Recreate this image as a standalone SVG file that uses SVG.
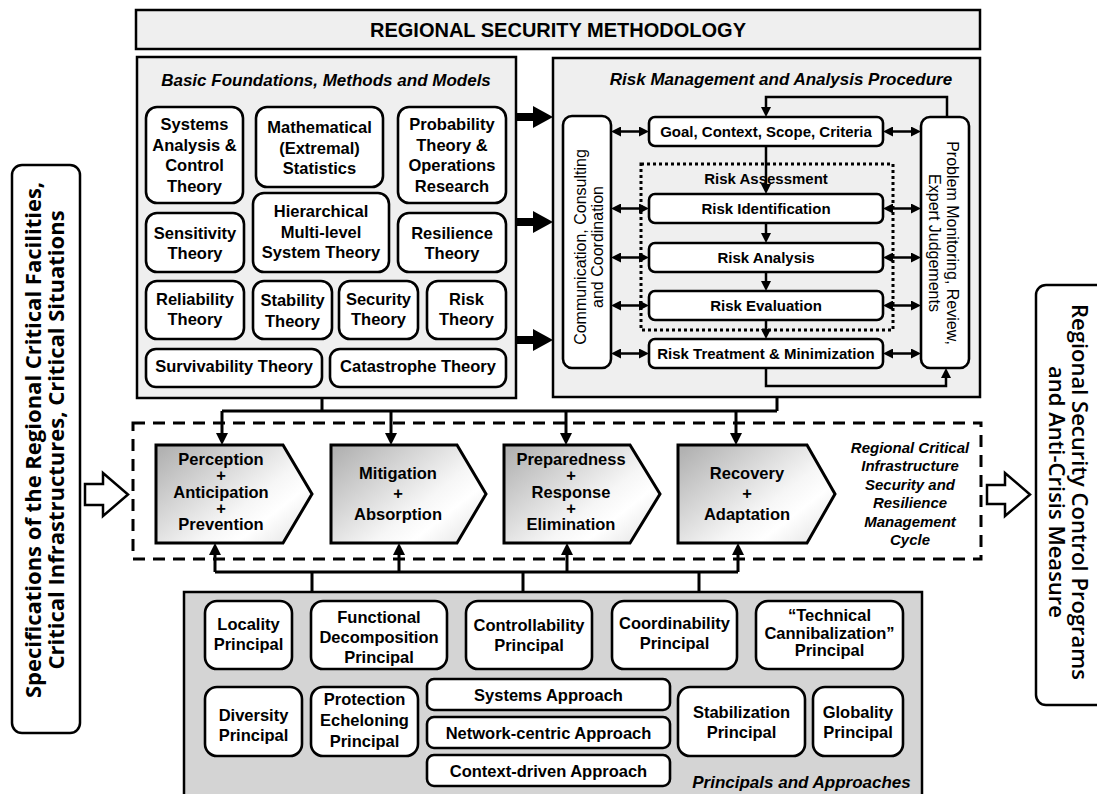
<svg xmlns="http://www.w3.org/2000/svg" width="1097" height="794" viewBox="0 0 1097 794">
<defs>
<style>
.panel{fill:#efefef;stroke:#000;stroke-width:2.5}
.box{fill:#fff;stroke:#000;stroke-width:2.6}
.t{font-family:"Liberation Sans",Arial,sans-serif;font-weight:bold;font-size:16.5px;text-anchor:middle;fill:#000}
.s{font-size:15px}
.ti{font-family:"Liberation Sans",Arial,sans-serif;font-weight:bold;font-style:italic;font-size:17px;text-anchor:middle;fill:#000}
.tc{font-family:"Liberation Sans",Arial,sans-serif;font-weight:bold;font-style:italic;font-size:15px;text-anchor:middle;fill:#000}
.tv{font-family:"Liberation Sans",Arial,sans-serif;font-size:16px;text-anchor:middle;fill:#000}
.side{font-family:"Open Sans","Liberation Sans",sans-serif;font-weight:600;font-size:22px;text-anchor:middle;fill:#000}
.ln{fill:none;stroke:#000;stroke-width:2.5}
.lm{fill:none;stroke:#000;stroke-width:3}
.chev{fill:url(#g);stroke:#000;stroke-width:3}
.hollow{fill:#fff;stroke:#000;stroke-width:2.5;stroke-linejoin:miter}
</style>
<linearGradient id="g" x1="0" y1="0.1" x2="1" y2="0.9">
<stop offset="0" stop-color="#b2b2b2"/>
<stop offset="0.6" stop-color="#f6f6f6"/>
<stop offset="0.75" stop-color="#ffffff"/>
<stop offset="1" stop-color="#e4e4e4"/>
</linearGradient>
<marker id="a" viewBox="0 0 10 10" refX="6" refY="5" markerWidth="10" markerHeight="10" markerUnits="userSpaceOnUse" orient="auto-start-reverse"><path d="M0,0L10,5L0,10z"/></marker>
<marker id="b" viewBox="0 0 12 12" refX="8" refY="6" markerWidth="12" markerHeight="12" markerUnits="userSpaceOnUse" orient="auto-start-reverse"><path d="M0,0L12,6L0,12z"/></marker>
<marker id="c" viewBox="0 0 20 22" refX="4" refY="11" markerWidth="20" markerHeight="22" markerUnits="userSpaceOnUse" orient="auto"><path d="M0,0L20,11L0,22z"/></marker>
</defs>
<rect width="1097" height="794" fill="#fff"/>

<g id="title">
<rect class="panel" x="136" y="10" width="844" height="39"/>
<text class="t" style="font-size:20px" x="558" y="37">REGIONAL SECURITY METHODOLOGY</text>
</g>

<g id="foundations">
<rect class="panel" x="137" y="57" width="379" height="341"/>
<text class="ti" x="326" y="86">Basic Foundations, Methods and Models</text>
<g id="systems-analysis"><rect class="box" x="146" y="107" width="97" height="96" rx="11"/><text class="t" x="194.5" y="130">Systems</text><text class="t" x="194.5" y="150.5">Analysis &amp;</text><text class="t" x="194.5" y="171">Control</text><text class="t" x="194.5" y="191.5">Theory</text></g>
<g id="math-stats"><rect class="box" x="256" y="107" width="127" height="80" rx="11"/><text class="t" x="319.5" y="133">Mathematical</text><text class="t" x="319.5" y="153.5">(Extremal)</text><text class="t" x="319.5" y="174">Statistics</text></g>
<g id="probability"><rect class="box" x="398" y="107" width="108" height="96" rx="11"/><text class="t" x="452" y="130">Probability</text><text class="t" x="452" y="150.5">Theory &amp;</text><text class="t" x="452" y="171">Operations</text><text class="t" x="452" y="191.5">Research</text></g>
<g id="sensitivity"><rect class="box" x="146" y="213" width="98" height="59" rx="11"/><text class="t" x="195" y="239">Sensitivity</text><text class="t" x="195" y="259">Theory</text></g>
<g id="hierarchical"><rect class="box" x="253" y="193" width="136" height="79" rx="11"/><text class="t" x="321" y="217">Hierarchical</text><text class="t" x="321" y="238">Multi-level</text><text class="t" x="321" y="258">System Theory</text></g>
<g id="resilience"><rect class="box" x="398" y="213" width="108" height="59" rx="11"/><text class="t" x="452" y="239">Resilience</text><text class="t" x="452" y="259">Theory</text></g>
<g id="reliability"><rect class="box" x="146" y="281" width="98" height="58" rx="11"/><text class="t" x="195" y="304.5">Reliability</text><text class="t" x="195" y="324.5">Theory</text></g>
<g id="stability"><rect class="box" x="253" y="281" width="79" height="58" rx="11"/><text class="t" x="292.5" y="306">Stability</text><text class="t" x="292.5" y="326.5">Theory</text></g>
<g id="security"><rect class="box" x="339" y="281" width="79" height="58" rx="11"/><text class="t" x="378.5" y="304.5">Security</text><text class="t" x="378.5" y="324.5">Theory</text></g>
<g id="risk-theory"><rect class="box" x="427" y="281" width="79" height="58" rx="11"/><text class="t" x="466.5" y="304.5">Risk</text><text class="t" x="466.5" y="324.5">Theory</text></g>
<g id="survivability"><rect class="box" x="146" y="349" width="176" height="38" rx="10"/><text class="t" x="234" y="372">Survivability Theory</text></g>
<g id="catastrophe"><rect class="box" x="330" y="349" width="176" height="38" rx="10"/><text class="t" x="418" y="372">Catastrophe Theory</text></g>
</g>

<g id="risk-procedure">
<rect class="panel" x="553" y="58" width="427" height="339"/>
<text class="ti" x="781" y="85">Risk Management and Analysis Procedure</text>
<rect id="risk-assessment" x="641" y="164" width="252" height="166" fill="none" stroke="#000" stroke-width="3" stroke-dasharray="3 3"/>
<text class="t s" x="766" y="184">Risk Assessment</text>
<g id="communication"><rect class="box" x="563" y="116" width="48" height="252" rx="9"/><g transform="translate(587,247) rotate(-90)"><text class="tv" x="0" y="-1">Communication, Consulting</text><text class="tv" x="0" y="16">and Coordination</text></g></g>
<g id="monitoring"><rect class="box" x="921" y="117" width="48" height="251" rx="9"/><g transform="translate(945,243) rotate(90)"><text class="tv" x="0" y="-2">Problem Monitoring, Review,</text><text class="tv" x="0" y="16">Expert Judgements</text></g></g>
<g id="goal"><rect class="box" x="649" y="117" width="234" height="29" rx="6"/><text class="t s" x="766" y="137">Goal, Context, Scope, Criteria</text></g>
<g id="risk-identification"><rect class="box" x="649" y="194" width="234" height="29" rx="6"/><text class="t s" x="766" y="214">Risk Identification</text></g>
<g id="risk-analysis"><rect class="box" x="649" y="243" width="234" height="29" rx="6"/><text class="t s" x="766" y="263">Risk Analysis</text></g>
<g id="risk-evaluation"><rect class="box" x="649" y="291" width="234" height="29" rx="6"/><text class="t s" x="766" y="311">Risk Evaluation</text></g>
<g id="risk-treatment"><rect class="box" x="649" y="339" width="234" height="29" rx="6"/><text class="t s" x="766" y="359">Risk Treatment &amp; Minimization</text></g>
</g>

<g id="cycle">
<rect x="133" y="423" width="848" height="136" fill="none" stroke="#000" stroke-width="3" stroke-dasharray="12 8"/>
<g id="perception"><path class="chev" d="M156,445H283L312,494L283,543H156Z"/><text class="t" x="221" y="465">Perception</text><text class="t" x="221" y="481">+</text><text class="t" x="221" y="498">Anticipation</text><text class="t" x="221" y="514">+</text><text class="t" x="221" y="530">Prevention</text></g>
<g id="mitigation"><path class="chev" d="M331,445H457L486,494L457,543H331Z"/><text class="t" x="398" y="479">Mitigation</text><text class="t" x="398" y="499">+</text><text class="t" x="398" y="520">Absorption</text></g>
<g id="preparedness"><path class="chev" d="M504,445H630L660,494L630,543H504Z"/><text class="t" x="571" y="465">Preparedness</text><text class="t" x="571" y="481">+</text><text class="t" x="571" y="498">Response</text><text class="t" x="571" y="514">+</text><text class="t" x="571" y="530">Elimination</text></g>
<g id="recovery"><path class="chev" d="M678,445H807L835,494L807,543H678Z"/><text class="t" x="747" y="479">Recovery</text><text class="t" x="747" y="499">+</text><text class="t" x="747" y="520">Adaptation</text></g>
<g id="cycle-label"><text class="tc" x="910" y="452.5">Regional Critical</text><text class="tc" x="910" y="471">Infrastructure</text><text class="tc" x="910" y="489.5">Security and</text><text class="tc" x="910" y="508">Resilience</text><text class="tc" x="910" y="526.5">Management</text><text class="tc" x="910" y="545">Cycle</text></g>
</g>

<g id="principles">
<rect x="184" y="592" width="738" height="215" fill="#d4d4d4" stroke="#000" stroke-width="2.5"/>
<text class="ti" x="801.5" y="788">Principals and Approaches</text>
<g id="locality"><rect class="box" x="205" y="601" width="87" height="68" rx="12"/><text class="t" x="248.5" y="630">Locality</text><text class="t" x="248.5" y="650">Principal</text></g>
<g id="functional"><rect class="box" x="311" y="601" width="136" height="68" rx="12"/><text class="t" x="379" y="623">Functional</text><text class="t" x="379" y="643">Decomposition</text><text class="t" x="379" y="663">Principal</text></g>
<g id="controllability"><rect class="box" x="466" y="601" width="126" height="68" rx="12"/><text class="t" x="529" y="631">Controllability</text><text class="t" x="529" y="651">Principal</text></g>
<g id="coordinability"><rect class="box" x="612" y="601" width="125" height="68" rx="12"/><text class="t" x="674.5" y="629">Coordinability</text><text class="t" x="674.5" y="649">Principal</text></g>
<g id="cannibalization"><rect class="box" x="756" y="601" width="147" height="68" rx="12"/><text class="t" x="829.5" y="621">&#8220;Technical</text><text class="t" x="829.5" y="638.5">Cannibalization&#8221;</text><text class="t" x="829.5" y="655.5">Principal</text></g>
<g id="diversity"><rect class="box" x="205" y="687" width="97" height="69" rx="12"/><text class="t" x="253.5" y="721">Diversity</text><text class="t" x="253.5" y="741">Principal</text></g>
<g id="protection"><rect class="box" x="311" y="687" width="107" height="69" rx="12"/><text class="t" x="364.5" y="705">Protection</text><text class="t" x="364.5" y="726">Echeloning</text><text class="t" x="364.5" y="747">Principal</text></g>
<g id="systems-approach"><rect class="box" x="427" y="679" width="243" height="31" rx="7"/><text class="t" x="548.5" y="701">Systems Approach</text></g>
<g id="network-approach"><rect class="box" x="427" y="717" width="243" height="31" rx="7"/><text class="t" x="548.5" y="739">Network-centric Approach</text></g>
<g id="context-approach"><rect class="box" x="427" y="755" width="243" height="31" rx="7"/><text class="t" x="548.5" y="777">Context-driven Approach</text></g>
<g id="stabilization"><rect class="box" x="678" y="687" width="127" height="69" rx="12"/><text class="t" x="741.5" y="718">Stabilization</text><text class="t" x="741.5" y="738">Principal</text></g>
<g id="globality"><rect class="box" x="813" y="687" width="90" height="69" rx="12"/><text class="t" x="858" y="718">Globality</text><text class="t" x="858" y="738">Principal</text></g>
</g>

<g id="input">
<rect x="12" y="165" width="68" height="568" rx="10" fill="#fff" stroke="#000" stroke-width="2.5"/>
<g transform="translate(46,440) rotate(-90)"><text class="side" style="font-weight:700" x="0" y="-5.5">Specifications of the Regional Critical Facilities,</text><text class="side" style="font-weight:700" x="0" y="18">Critical Infrastructures, Critical Situations</text></g>
</g>

<g id="output">
<rect x="1036" y="285" width="75" height="420" rx="10" fill="#fff" stroke="#000" stroke-width="2.5"/>
<g transform="translate(1066,492) rotate(90)"><text class="side" x="0" y="-5.5">Regional Security Control Programs</text><text class="side" x="0" y="17.5">and Anti-Crisis Measure</text></g>
</g>

<g id="connectors">
<path class="hollow" d="M85,484H103V473L128,494.5L103,516V505H85Z"/>
<path class="hollow" d="M987,485H1005V473L1030,494.5L1005,516V504H987Z"/>
<g stroke="#000" stroke-width="8" fill="none">
<path d="M516,117H537" marker-end="url(#c)"/>
<path d="M516,222H537" marker-end="url(#c)"/>
<path d="M516,340H537" marker-end="url(#c)"/>
</g>
<g class="ln">
<path d="M615,131.5H645" marker-start="url(#a)" marker-end="url(#a)"/>
<path d="M615,208.5H645" marker-start="url(#a)" marker-end="url(#a)"/>
<path d="M615,257.5H645" marker-start="url(#a)" marker-end="url(#a)"/>
<path d="M615,305.5H645" marker-start="url(#a)" marker-end="url(#a)"/>
<path d="M615,353.5H645" marker-start="url(#a)" marker-end="url(#a)"/>
<path d="M887,131.5H917" marker-start="url(#a)" marker-end="url(#a)"/>
<path d="M887,208.5H917" marker-start="url(#a)" marker-end="url(#a)"/>
<path d="M887,257.5H917" marker-start="url(#a)" marker-end="url(#a)"/>
<path d="M887,305.5H917" marker-start="url(#a)" marker-end="url(#a)"/>
<path d="M887,353.5H917" marker-start="url(#a)" marker-end="url(#a)"/>
<path d="M766,146V190" marker-end="url(#a)"/>
<path d="M766,223V239" marker-end="url(#a)"/>
<path d="M766,272V287" marker-end="url(#a)"/>
<path d="M766,320V335" marker-end="url(#a)"/>
<path d="M947,117V97H766V113" marker-end="url(#a)"/>
<path d="M766,368V386H946V372" marker-end="url(#a)"/>
</g>
<g class="lm">
<path d="M322,398V411M777,397V411M222,411H777"/>
<path d="M222,411V441" marker-end="url(#b)"/>
<path d="M391,411V441" marker-end="url(#b)"/>
<path d="M566,411V441" marker-end="url(#b)"/>
<path d="M736,411V441" marker-end="url(#b)"/>
<path d="M312,592V572M523,592V572M699,592V572M215,572H738"/>
<path d="M215,572V547" marker-end="url(#b)"/>
<path d="M399,572V547" marker-end="url(#b)"/>
<path d="M567,572V547" marker-end="url(#b)"/>
<path d="M738,572V547" marker-end="url(#b)"/>
</g>
</g>
</svg>
